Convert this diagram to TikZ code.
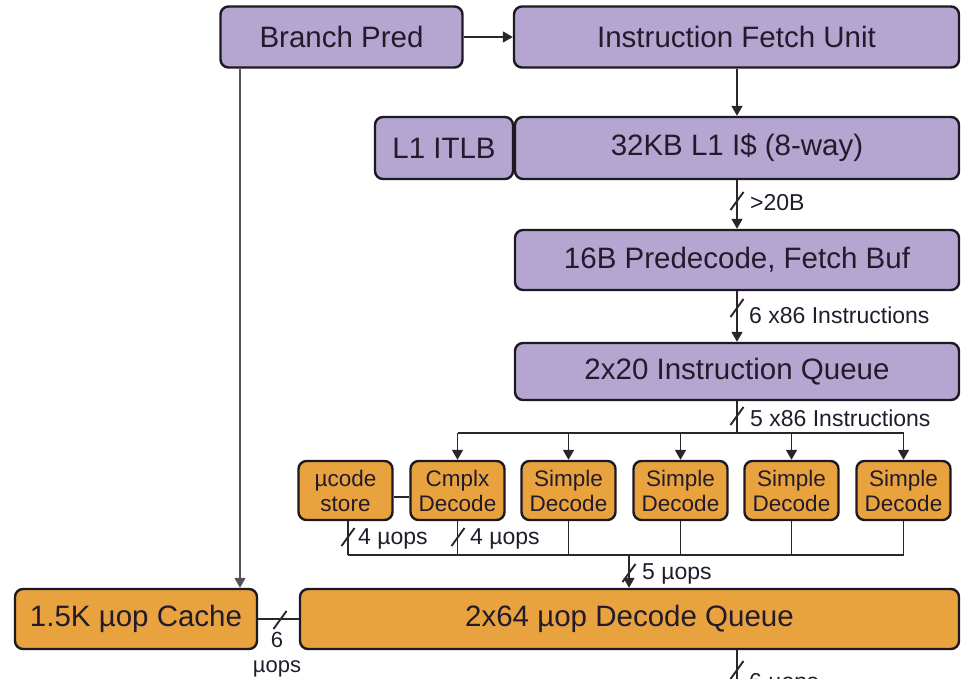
\documentclass[tikz,border=0pt]{standalone}
\usepackage{fontspec}
\setmainfont{Liberation Sans}
\usetikzlibrary{arrows.meta,calc}
\definecolor{purp}{HTML}{B4A5D1}
\definecolor{orng}{HTML}{E8A33E}
\definecolor{edgec}{HTML}{1E1822}
\definecolor{txtc}{HTML}{231B2B}
\definecolor{wirec}{HTML}{2A262C}
\newcommand\slashmark[1]{\draw[tickst] ($(#1)+(-6.5,9)$) -- ($(#1)+(6.5,-9)$);}
\begin{document}
\begin{tikzpicture}[x=1pt,y=-1pt,
  basebox/.style={draw=edgec, line width=2.4pt, rounded corners=8pt, text=txtc, inner sep=0pt, anchor=center},
  bigbox/.style={basebox, fill=purp, font=\fontsize{29.5}{34}\selectfont},
  obig/.style={basebox, fill=orng, font=\fontsize{29.5}{34}\selectfont},
  decbox/.style={basebox, fill=orng, minimum width=94pt, minimum height=59pt, align=center, font=\fontsize{22.5}{25}\selectfont},
  lbl/.style={text=txtc, inner sep=0pt, anchor=west, font=\fontsize{23}{25}\selectfont},
  wire/.style={draw=wirec, line width=1.7pt},
  arr/.style={wire, -{Triangle[length=10pt,width=11pt]}},
  tickst/.style={draw=wirec, line width=1.9pt}]
\useasboundingbox (0,0) rectangle (961,679);

% purple boxes
\node[bigbox, minimum width=242pt, minimum height=61pt] (bp) at (341.5,37) {Branch Pred};
\node[bigbox, minimum width=445pt, minimum height=61pt] (ifu) at (736.5,37) {Instruction Fetch Unit};
\node[bigbox, minimum width=138pt, minimum height=62pt] (itlb) at (444,148) {L1 ITLB};
\node[bigbox, minimum width=444pt, minimum height=62pt] (l1i) at (737,148) {32KB L1 I\$ (8-way)};
\node[bigbox, minimum width=444pt, minimum height=60pt] (pre) at (737,260) {16B Predecode, Fetch Buf};
\node[bigbox, minimum width=444pt, minimum height=57pt] (iq) at (737,371.5) {2x20 Instruction Queue};

% decoders
\node[decbox] (uc) at (345.5,490.5) {µcode\\store};
\node[decbox] (cx) at (457.5,490.5) {Cmplx\\Decode};
\node[decbox] (s1) at (568.5,490.5) {Simple\\Decode};
\node[decbox] (s2) at (680.5,490.5) {Simple\\Decode};
\node[decbox] (s3) at (791.5,490.5) {Simple\\Decode};
\node[decbox] (s4) at (903.5,490.5) {Simple\\Decode};

% orange bottom boxes
\node[obig, minimum width=242pt, minimum height=60pt] (cache) at (136,619) {1.5K µop Cache};
\node[obig, minimum width=659pt, minimum height=60pt] (dq) at (629.5,619) {2x64 µop Decode Queue};

% coordinates
\coordinate (bpx) at (240,0);
\coordinate (ucx) at (348,0);
\coordinate (jtop) at (737,433);
\coordinate (jbot) at (629,555);
\coordinate (dqout) at (737,700);

% connectors top
\draw[arr] (bp) -- (ifu);
\draw[arr] (ifu.south -| l1i) -- (l1i.north);
\draw[arr] (l1i.south) -- (pre.north);
\draw[arr] (pre.south) -- (iq.north);
\draw[wire] (iq.south) -- (jtop);
\draw[wire] (jtop -| cx) -- (jtop -| s4);
\foreach \d in {cx,s1,s2,s3,s4} \draw[arr] (jtop -| \d) -- (\d.north);

% branch pred to uop cache
\draw[arr, draw=wirec!80] (bp.south -| bpx) -- (cache.north -| bpx);

% ucode to cmplx
\draw[wire] ([yshift=-6.5pt]uc.east) -- ([yshift=-6.5pt]cx.west);

% decoders down
\draw[wire] (uc.south -| ucx) -- (jbot -| ucx);
\foreach \d in {cx,s1,s2,s3,s4} \draw[wire] (\d.south) -- (jbot -| \d);
\draw[wire] (jbot -| ucx) -- (jbot -| s4);
\draw[arr] (jbot) -- (dq.north -| jbot);

% cache to decode queue
\draw[wire] (cache.east) -- (dq.west);
% decode queue output
\draw[arr] (dq.south -| dqout) -- (dqout);

% slashes
\coordinate (t1) at (737,201);
\coordinate (t2) at (737,308);
\coordinate (t3) at (737,416);
\coordinate (t4) at (348,537);
\coordinate (t5) at (458,537);
\coordinate (t6) at (629,573);
\coordinate (t7) at (280,620);
\coordinate (t8) at (737,670);
\slashmark{t1}\slashmark{t2}\slashmark{t3}\slashmark{t4}\slashmark{t5}\slashmark{t6}\slashmark{t7}\slashmark{t8}

% labels
\node[lbl] (la) at (750,203) {>20B};
\node[lbl] (lb) at (749,315) {6 x86 Instructions};
\node[lbl] (lc) at (750,418) {5 x86 Instructions};
\node[lbl] (ld) at (358,539) {4 µops};
\node[lbl] (le) at (470,539) {4 µops};
\node[lbl] (lf) at (642,574) {5 µops};
\node[lbl, anchor=center, align=center, font=\fontsize{22}{25}\selectfont] (lg) at (277,655) {6\\µops};
\node[lbl, anchor=base west] (lh) at (749,689) {6 µops};
\end{tikzpicture}
\end{document}
